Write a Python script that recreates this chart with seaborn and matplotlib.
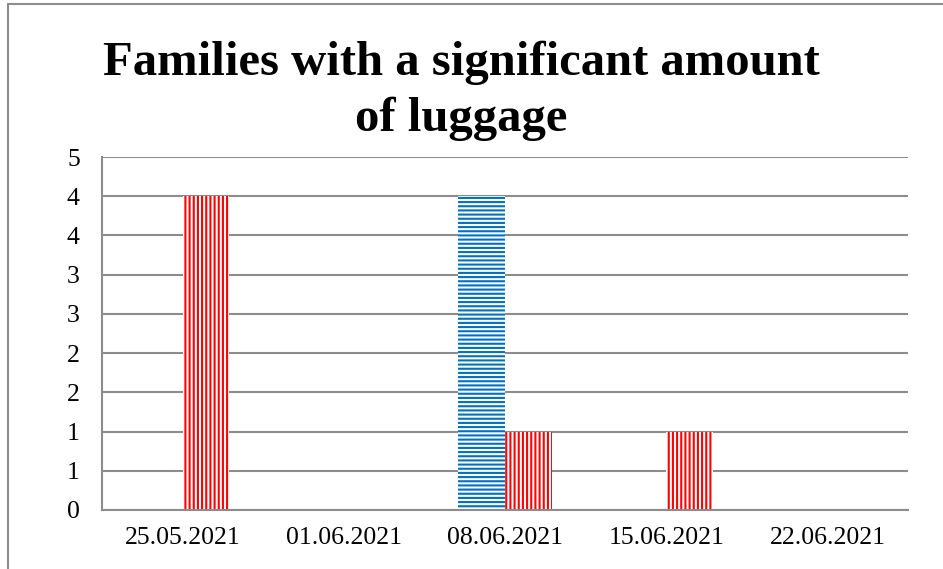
import pandas as pd
import numpy as np
import matplotlib.pyplot as plt
import seaborn as sns

dates = ["25.05.2021", "01.06.2021", "08.06.2021", "15.06.2021", "22.06.2021"]
series_blue = [0, 0, 4, 0, 0]
series_red = [4, 0, 1, 1, 0]
series_names = ["Series1", "Series2"]
title_lines = ["Families with a significant amount", "of luggage"]
y_ticks = [0, 0.5, 1, 1.5, 2, 2.5, 3, 3.5, 4, 4.5]

df = pd.DataFrame({
    "date": dates * 2,
    "value": series_blue + series_red,
    "series": [series_names[0]] * len(dates) + [series_names[1]] * len(dates),
})

sns.set_style("white")
plt.rcParams["font.family"] = ["Liberation Serif", "DejaVu Serif"]
plt.rcParams["text.color"] = "black"
plt.rcParams["hatch.linewidth"] = 1.5

fig = plt.figure(figsize=(9.43, 5.69), dpi=100)
W, H = 943, 569
ax = fig.add_axes([102 / W, 1 - 510 / H, (908 - 102) / W, (510 - 157) / H])

sns.barplot(data=df, x="date", y="value", hue="series", hue_order=series_names,
            order=dates, width=0.58, dodge=True, ax=ax, legend=False)

colors = ["#0070C0", "#FF0000"]
hatches = ["----", "||||"]
for cont, c, h in zip(ax.containers, colors, hatches):
    for bar in cont:
        bar.set_facecolor("white")
        bar.set_edgecolor(c)
        bar.set_linewidth(0)
        bar.set_hatch(h)

grid_c = "#8c8c8c"
ax.set_ylim(0, 4.5)
ax.set_yticks(y_ticks)
ax.set_yticklabels([str(int(np.floor(v + 0.5))) for v in y_ticks])
ax.yaxis.grid(True, color=grid_c, linewidth=1.5)
ax.set_axisbelow(True)
ax.set_xlabel("")
ax.set_ylabel("")
ax.tick_params(axis="both", length=0, labelsize=18.5, colors="black")
ax.tick_params(axis="y", pad=16)
ax.tick_params(axis="x", pad=12)
for side in ["top", "right"]:
    ax.spines[side].set_visible(False)
for side in ["left", "bottom"]:
    ax.spines[side].set_color(grid_c)
    ax.spines[side].set_linewidth(1.5)

# chart border (top and left edges visible)
fig.add_artist(plt.Line2D([8 / W, 1], [1 - 4 / H, 1 - 4 / H], transform=fig.transFigure,
                          color="#8c8c8c", linewidth=1.5))
fig.add_artist(plt.Line2D([8 / W, 8 / W], [0, 1 - 4 / H], transform=fig.transFigure,
                          color="#8c8c8c", linewidth=1.5))

for line, base in zip(title_lines, [75, 131]):
    fig.text(461 / W, 1 - base / H, line, ha="center", va="baseline",
             fontsize=35, fontweight="bold", family="Liberation Serif", color="black")

plt.savefig("out.png", dpi=100)
